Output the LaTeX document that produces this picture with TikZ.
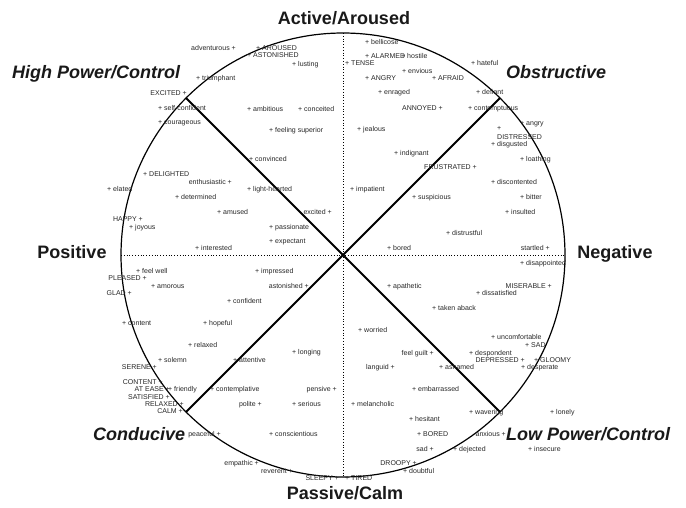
\documentclass[tikz,border=0pt]{standalone}
\usepackage{fontspec}
\setmainfont{Liberation Sans}

\begin{document}
\begin{tikzpicture}[x=1pt,y=-1pt,
emo/.style={font=\fontsize{7}{8}\selectfont,text=black!85,inner sep=0pt,text height=5pt,text depth=0pt},
axislabel/.style={font=\fontsize{18}{20}\selectfont\bfseries,text=black!90,inner sep=0pt,text height=13pt,text depth=0pt},
quadlabel/.style={axislabel,font=\fontsize{18}{20}\selectfont\bfseries\itshape,anchor=west},
wheel/.style={line width=1.2pt},
spoke/.style={line width=1.8pt},
axisline/.style={dotted,line width=0.8pt},
]
\useasboundingbox (0,0) rectangle (686,507);

\coordinate (o) at (343,255);
\coordinate (top) at (343,33);
\coordinate (bot) at (343,477);
\coordinate (lft) at (121,255);
\coordinate (rgt) at (565,255);
\coordinate (ul) at (186,98);
\coordinate (ur) at (500,98);
\coordinate (ll) at (186,412);
\coordinate (lr) at (500,412);

\draw[wheel] (o) circle[radius=222pt];
\draw[axisline] (top) -- (bot);
\draw[axisline] (lft) -- (rgt);
\draw[spoke] (ul) -- (lr);
\draw[spoke] (ll) -- (ur);

% axes and quadrants
\node[axislabel] (active) at (344,18) {Active/Aroused};
\node[axislabel] (passive) at (345,493) {Passive/Calm};
\node[axislabel] (positive) at (72,252) {Positive};
\node[axislabel] (negative) at (615,252) {Negative};
\node[quadlabel] (highpower) at (12,72) {High Power/Control};
\node[quadlabel] (obstructive) at (506,72) {Obstructive};
\node[quadlabel] (conducive) at (93,434) {Conducive};
\node[quadlabel] (lowpower) at (506,434) {Low Power/Control};

% emotion terms, plus sign first
\foreach \x/\y/\t [count=\i] in {
256/48/+ AROUSED, 247/55/+ ASTONISHED, 292/64/+ lusting, 196/78/+ triumphant,
158/108/+ self-confident, 158/122/+ courageous, 247/109/+ ambitious, 298/109/+ conceited,
269/130/+ feeling superior, 249/159/+ convinced, 143/174/+ DELIGHTED, 247/189/+ light-hearted,
107/189/+ elated, 175/197/+ determined, 217/212/+ amused, 129/227/+ joyous,
269/227/+ passionate, 269/241/+ expectant, 195/248/+ interested,
365/42/+ bellicose, 365/56/+ ALARMED, 401/56/+ hostile, 345/63/+ TENSE,
402/71/+ envious, 471/63/+ hateful, 365/78/+ ANGRY, 432/78/+ AFRAID,
378/92/+ enraged, 476/92/+ defiant, 468/108/+ contemptuous, 357/129/+ jealous,
520/123/+ angry, 491/144/+ disgusted, 520/159/+ loathing, 394/153/+ indignant,
491/182/+ discontented, 350/189/+ impatient, 412/197/+ suspicious, 520/197/+ bitter,
505/212/+ insulted, 446/233/+ distrustful, 387/248/+ bored,
136/271/+ feel well, 151/286/+ amorous, 255/271/+ impressed, 227/301/+ confident,
122/323/+ content, 203/323/+ hopeful, 188/345/+ relaxed, 292/352/+ longing,
158/360/+ solemn, 233/360/+ attentive, 168/389/+ friendly, 210/389/+ contemplative,
292/404/+ serious, 269/434/+ conscientious,
520/263/+ disappointed, 387/286/+ apathetic, 476/293/+ dissatisfied, 432/308/+ taken aback,
358/330/+ worried, 491/337/+ uncomfortable, 525/345/+ SAD, 469/353/+ despondent,
534/360/+ GLOOMY, 439/367/+ ashamed, 521/367/+ desperate, 412/389/+ embarrassed,
351/404/+ melancholic, 469/412/+ wavering, 550/412/+ lonely, 409/419/+ hesitant,
417/434/+ BORED, 453/449/+ dejected, 528/449/+ insecure, 403/471/+ doubtful,
345/478/+ TIRED}
  \node[emo,anchor=west] (w\i) at (\x,\y) {\t};

% emotion terms, plus sign last
\foreach \x/\y/\t [count=\i] in {
236/48/adventurous +, 187/93/EXCITED +, 232/182/enthusiastic +, 332/212/excited +,
143/219/HAPPY +, 443/108/ANNOYED +, 477/167/FRUSTRATED +, 550/248/startled +,
147/278/PLEASED +, 132/293/GLAD +, 309/286/astonished +, 157/367/SERENE +,
163/382/CONTENT +, 170/389/AT EASE +, 170/397/SATISFIED +, 184/404/RELAXED +,
183/411/CALM +, 337/389/pensive +, 262/404/polite +, 221/434/peaceful +,
259/463/empathic +, 293/471/reverent +, 339/478/SLEEPY +,
552/286/MISERABLE +, 434/353/feel guilt +, 525/360/DEPRESSED +, 395/367/languid +,
506/434/anxious +, 434/449/sad +, 417/463/DROOPY +}
  \node[emo,anchor=east] (e\i) at (\x,\y) {\t};

\node[emo,anchor=north west,align=left,text height=,text depth=,
  font=\fontsize{7}{9}\selectfont] (distressed) at (497,126) {+\\DISTRESSED};
\end{tikzpicture}
\end{document}
